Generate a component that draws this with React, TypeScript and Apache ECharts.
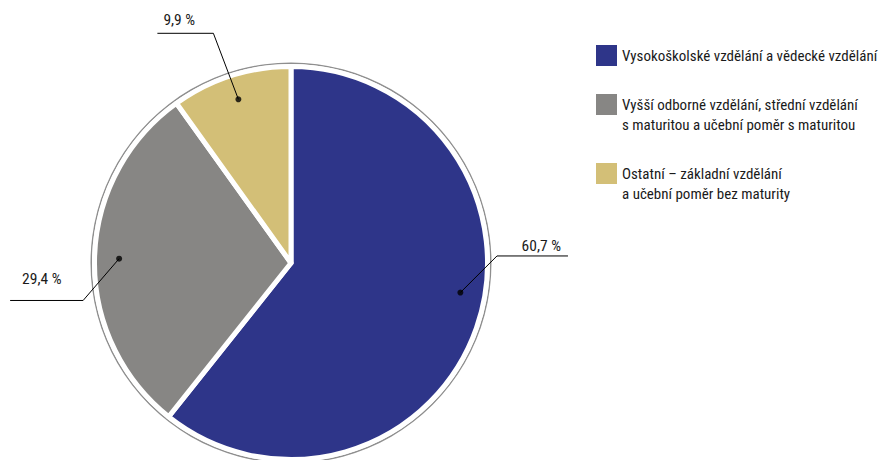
import React, { useEffect, useRef } from "react";
import * as echarts from "echarts";

// ---- data ----
const categories = [
  "Vysokoškolské vzdělání a vědecké vzdělání",
  "Vyšší odborné vzdělání, střední vzdělání\ns maturitou a učební poměr s maturitou",
  "Ostatní – základní vzdělání\na učební poměr bez maturity",
];
const shares = [60.7, 29.4, 9.9];
const valueLabels = ["60,7 %", "29,4 %", "9,9 %"];

// ---- styles / layout ----
const colors = ["#2E3589", "#878684", "#D3BF77"];
const FONT = "'Roboto Condensed', Roboto, sans-serif";
const CX = 291;
const CY = 263;
const R = 196.5;
const DOT_R = 0.875;
const LEG_LH = 20;
const squareTops = [45, 94, 163];
const labelCfg = [
  { shift: -2.6, elbow: [36.6, -36.6], run: 71, inset: 7, gap: 2 },
  { shift: 0, elbow: [-36, 41.8], run: -73, inset: 12, gap: 13 },
  { shift: 0, elbow: [-25, -66], run: -56, inset: 6, gap: 5 },
];

const total = shares.reduce((a, b) => a + b, 0);
const mids = shares.map(
  (v, i) => shares.slice(0, i).reduce((a, b) => a + b, 0) + v / 2 + labelCfg[i].shift
);

function dotPoint(i: number): [number, number] {
  const a = (mids[i] / total) * Math.PI * 2;
  return [CX + DOT_R * R * Math.sin(a), CY - DOT_R * R * Math.cos(a)];
}

const isMulti = (i: number) => categories[i].includes("\n");

function legendTop(i: number): number {
  if (!isMulti(i)) return squareTops[i];
  const boxH = 3 * LEG_LH; // blank line + two text lines, centred on the square
  return squareTops[i] - (boxH / 2 - 10.5);
}

export default function App() {
  const ref = useRef<HTMLDivElement>(null);
  useEffect(() => {
    document.body.style.margin = "0";
    const chart = echarts.init(ref.current!, undefined, { renderer: "svg" });
    const pieData = categories.map((c, i) => ({
      name: c,
      value: shares[i],
      itemStyle: { color: colors[i] },
    }));
    chart.setOption({
      animation: false,
      legend: categories.map((c, i) => ({
        data: [c],
        orient: "vertical",
        left: 596,
        top: legendTop(i),
        itemWidth: 21,
        itemHeight: 21,
        icon: "rect",
        padding: 0,
        selectedMode: false,
        itemStyle: { borderWidth: 0 },
        formatter: (name: string) => (name.includes("\n") ? "\n" + name : name),
        textStyle: {
          fontSize: 15,
          color: "#1a1a1a",
          fontFamily: FONT,
          lineHeight: LEG_LH,
        },
      })),
      polar: { center: [CX, CY], radius: R },
      angleAxis: {
        type: "value",
        min: 0,
        max: total,
        startAngle: 90,
        clockwise: true,
        show: false,
      },
      radiusAxis: { type: "value", min: 0, max: 1, show: false },
      series: [
        {
          type: "pie",
          center: [CX, CY],
          radius: [199, 200.5],
          silent: true,
          label: { show: false },
          labelLine: { show: false },
          data: [{ value: 1, name: "ring", itemStyle: { color: "#8f8f8f" } }],
        },
        {
          type: "pie",
          center: [CX, CY],
          radius: [0, R],
          startAngle: 90,
          clockwise: true,
          silent: true,
          itemStyle: { borderColor: "#ffffff", borderWidth: 5 },
          data: pieData,
          label: { show: false },
          labelLine: { show: false },
        },
        {
          type: "pie",
          center: [CX, CY],
          radius: [0, R],
          startAngle: 90,
          clockwise: true,
          silent: true,
          z: 5,
          avoidLabelOverlap: false,
          itemStyle: { color: "rgba(0,0,0,0)", borderWidth: 0 },
          data: pieData.map((d) => ({
            name: d.name,
            value: d.value,
            itemStyle: { color: "rgba(0,0,0,0)" },
          })),
          label: {
            show: true,
            position: "outside",
            formatter: (p: any) => valueLabels[p.dataIndex],
            fontSize: 15.5,
            color: "#1a1a1a",
            fontFamily: FONT,
          },
          labelLine: {
            show: true,
            length: 20,
            length2: 20,
            smooth: false,
            lineStyle: { color: "#000000", width: 1 },
          },
          labelLayout: (p: any) => {
            const i = p.dataIndex;
            const c = labelCfg[i];
            const [dx, dy] = dotPoint(i);
            const ex = dx + c.elbow[0];
            const ey = dy + c.elbow[1];
            const endX = ex + c.run;
            const right = c.run > 0;
            return {
              x: right ? endX - c.inset : endX + c.inset,
              y: ey - c.gap,
              align: right ? "right" : "left",
              verticalAlign: "bottom",
              labelLinePoints: [
                [dx, dy],
                [ex, ey],
                [endX, ey],
              ],
            };
          },
        },
        {
          type: "scatter",
          coordinateSystem: "polar",
          silent: true,
          symbolSize: 6,
          itemStyle: { color: "#000000" },
          data: mids.map((m) => [DOT_R, m]),
          z: 10,
        },
      ],
    });
    return () => chart.dispose();
  }, []);
  return <div ref={ref} style={{ width: 882, height: 460 }} />;
}
